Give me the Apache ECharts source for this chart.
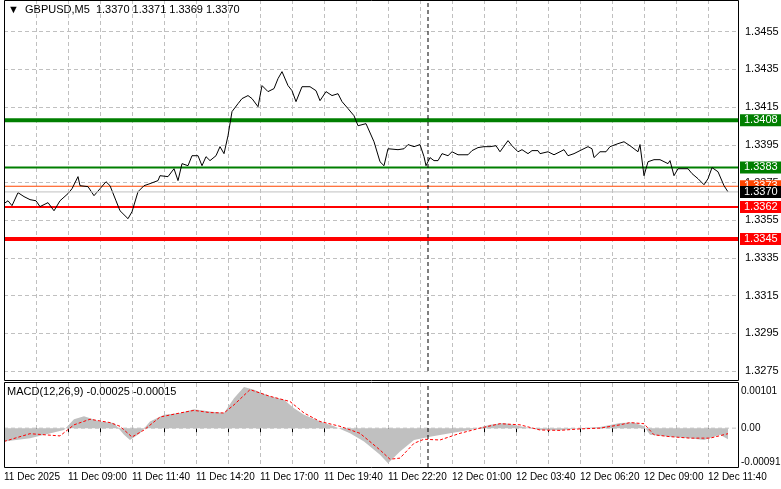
<!DOCTYPE html>
<html>
<head>
<meta charset="utf-8">
<script src="https://cdn.jsdelivr.net/npm/echarts@6/dist/echarts.min.js"></script>
<style>
  html, body { margin: 0; padding: 0; background: #fff; }
  #chart { width: 781px; height: 489px; }
</style>
</head>
<body>
<div id="chart"></div>
<script>
// price trace, [bar index (5 min bars), close]
const priceData = [
  [0,1.33638],[2,1.33653],[4,1.33627],[7,1.33696],[10,1.33675],[13,1.33659],[16,1.33653],[18,1.33622],
  [22,1.33643],[25,1.33600],[28,1.33653],[32,1.33691],[34,1.33717],[37,1.33781],[38,1.33733],[42,1.33728],
  [45,1.33680],[48,1.33717],[51,1.33754],[53,1.33733],[56,1.33653],[58,1.33600],[62,1.33558],[64,1.33595],
  [67,1.33701],[70,1.33733],[73,1.33744],[77,1.33760],[78,1.33786],[82,1.33781],[85,1.33823],[87,1.33760],
  [89,1.33850],[92,1.33839],[94,1.33892],[97,1.33892],[99,1.33839],[101,1.33887],[103,1.33866],[106,1.33892],
  [108,1.33940],[110,1.33903],[112,1.33998],[114,1.34126],[117,1.34168],[119,1.34195],[122,1.34211],[124,1.34195],
  [127,1.34152],[129,1.34264],[132,1.34232],[135,1.34248],[137,1.34301],[139,1.34338],[142,1.34264],[144,1.34237],
  [146,1.34179],[149,1.34258],[153,1.34258],[156,1.34237],[158,1.34184],[161,1.34232],[164,1.34211],[167,1.34221],
  [169,1.34179],[172,1.34142],[175,1.34104],[177,1.34051],[181,1.34062],[185,1.33966],[188,1.33860],[190,1.33839],
  [192,1.33929],[197,1.33924],[200,1.33929],[202,1.33951],[205,1.33940],[208,1.33951],[210,1.33887],[211,1.33839],
  [213,1.33882],[215,1.33866],[217,1.33866],[219,1.33903],[222,1.33892],[224,1.33913],[227,1.33897],[229,1.33897],
  [232,1.33897],[234,1.33919],[237,1.33935],[240,1.33940],[243,1.33940],[246,1.33945],[248,1.33913],[252,1.33972],
  [254,1.33945],[257,1.33913],[259,1.33924],[262,1.33903],[264,1.33919],[267,1.33919],[268,1.33903],[272,1.33913],
  [275,1.33897],[278,1.33913],[280,1.33924],[282,1.33892],[285,1.33903],[288,1.33919],[292,1.33940],[294,1.33929],
  [295,1.33882],[298,1.33913],[301,1.33913],[303,1.33940],[307,1.33956],[310,1.33966],[313,1.33945],[317,1.33913],
  [318,1.33951],[320,1.33786],[322,1.33860],[325,1.33871],[328,1.33871],[332,1.33850],[333,1.33866],[335,1.33786],
  [337,1.33823],[339,1.33823],[342,1.33823],[344,1.33797],[347,1.33770],[350,1.33738],[352,1.33770],[354,1.33829],
  [357,1.33807],[360,1.33733],[362,1.33700]
];

// MACD main (histogram) and signal, [bar index, value]
const macdHist = [
  [0,-0.00036],[13,-0.00027],[30,-0.00005],[35,0.00024],[40,0.00032],[48,0.00018],[55,0.00014],[60,-0.00018],
  [63,-0.00032],[68,-0.00014],[73,0.00018],[80,0.00036],[88,0.00041],[95,0.00051],[103,0.00045],[110,0.00041],
  [115,0.00081],[120,0.00111],[125,0.00104],[133,0.00086],[140,0.00077],[145,0.00054],[150,0.00036],[158,0.00018],
  [165,0.00005],[173,-0.00014],[180,-0.00036],[188,-0.00072],[192,-0.00095],[198,-0.00063],[205,-0.00032],[213,-0.00023],
  [223,-0.00014],[233,-0.00005],[243,0.00009],[250,0.00014],[258,0.00005],[268,-0.00005],[278,-0.00006],[288,0],
  [298,0.00003],[308,0.00014],[315,0.00015],[320,0.00005],[323,-0.00018],[333,-0.00023],[343,-0.00027],[350,-0.00032],
  [358,-0.00018],[362,-0.00030]
];
const macdSignal = [
  [0,-0.00036],[13,-0.00015],[28,-0.00021],[35,0.00009],[43,0.00024],[53,0.00015],[58,0.00005],[64,-0.00024],
  [70,-0.00005],[78,0.00030],[88,0.00041],[95,0.00048],[103,0.00042],[110,0.00041],[115,0.00063],[123,0.00104],
  [133,0.00086],[143,0.00072],[150,0.00041],[158,0.00018],[168,0.00005],[178,-0.00014],[188,-0.00059],[193,-0.00084],
  [198,-0.00081],[205,-0.00041],[210,-0.00030],[218,-0.00032],[228,-0.00014],[238,0],[248,0.00012],[258,0.00009],
  [268,-0.00005],[278,-0.00006],[288,-0.00002],[298,0],[308,0.00009],[313,0.00015],[320,0.00012],[325,-0.00018],
  [333,-0.00023],[343,-0.00027],[353,-0.00027],[362,-0.00015]
];

const timeLabels = ['11 Dec 2025','11 Dec 09:00','11 Dec 11:40','11 Dec 14:20','11 Dec 17:00','11 Dec 19:40',
  '11 Dec 22:20','12 Dec 01:00','12 Dec 03:40','12 Dec 06:20','12 Dec 09:00','12 Dec 11:40'];

// horizontal levels: value, colour, width
const levels = [
  { v: 1.3408, c: '#007f00', w: 4 },
  { v: 1.3383, c: '#007f00', w: 2 },
  { v: 1.3373, c: '#ff4500', w: 1 },
  { v: 1.3370, c: '#c0c0c0', w: 1, bg: '#000000' },
  { v: 1.3362, c: '#ff0000', w: 2 },
  { v: 1.3345, c: '#ff0000', w: 4 }
];
const cursorBar = 212;
const X_MAX = 367;
const P_MIN = 1.3275, P_MAX = 1.34718;
const M_MIN = -0.00105, M_MAX = 0.00122;

const FONT = 'Liberation Sans';
const chart = echarts.init(document.getElementById('chart'));
const dash = { color: '#c0c0c0', type: [4, 3], width: 1 };

const xCommon = {
  type: 'value', min: 0, max: X_MAX, interval: 16,
  splitLine: { show: true, lineStyle: dash },
  axisLine: { show: false }
};

const seg = (xi, yi, data, style, z, extra) => Object.assign({
  type: 'line', xAxisIndex: xi, yAxisIndex: yi, data: data, showSymbol: false, silent: true,
  lineStyle: style, z: z
}, extra || {});

const levelSeries = levels.map(l => seg(0, 0, [[0, l.v], [X_MAX, l.v]],
  { color: l.c, width: l.w, type: 'solid' }, l.bg ? 7 : 4, {
    endLabel: { show: true, distance: 2, formatter: l.v.toFixed(4), color: '#fff',
      backgroundColor: l.bg || l.c, padding: [1, 4, 0, 4], fontFamily: FONT, fontSize: 11 }
  }));

chart.setOption({
  animation: false,
  backgroundColor: '#fff',
  grid: [
    { left: 4, right: 43, top: 0, bottom: 118, outerBoundsMode: 'none' },
    { left: 4, right: 43, top: 383, bottom: 22, outerBoundsMode: 'none' }
  ],
  xAxis: [
    Object.assign({ gridIndex: 0, axisTick: { show: false }, axisLabel: { show: false } }, xCommon),
    Object.assign({
      gridIndex: 1,
      axisTick: { show: true, length: 4, lineStyle: { color: '#000' } },
      axisLabel: {
        fontFamily: FONT, fontSize: 10, color: '#000', align: 'left', margin: 5,
        formatter: v => (v % 32 === 0 ? (timeLabels[v / 32] || '') : '')
      }
    }, xCommon)
  ],
  yAxis: [
    {
      gridIndex: 0, type: 'value', position: 'right', min: P_MIN, max: P_MAX, interval: 0.002,
      splitLine: { show: true, lineStyle: dash },
      axisLine: { show: false }, axisTick: { show: false },
      axisLabel: { fontFamily: FONT, fontSize: 11, color: '#000', margin: 7, showMaxLabel: false,
        formatter: v => v.toFixed(4) }
    },
    {
      gridIndex: 1, type: 'value', position: 'right', min: M_MIN, max: M_MAX,
      splitLine: { show: false }, axisLine: { show: false }, axisTick: { show: false },
      axisLabel: { fontFamily: FONT, fontSize: 10, color: '#000', margin: 3,
        customValues: [0.00101, 0, -0.00091],
        formatter: v => (v === 0 ? '0.00' : v.toFixed(5)) }
    }
  ],
  series: [
    seg(0, 0, priceData, { color: '#000', width: 1 }, 5),
    seg(0, 0, [[cursorBar, P_MIN], [cursorBar, P_MAX]], { color: '#000', type: [4, 3], width: 1 }, 6)
  ].concat(levelSeries).concat([
    seg(1, 1, macdHist, { width: 0 }, 2, { areaStyle: { color: '#c0c0c0', opacity: 1 } }),
    seg(1, 1, [[0, 0], [X_MAX, 0]], { color: '#c0c0c0', type: [4, 3], width: 1 }, 1),
    seg(1, 1, [[cursorBar, M_MIN], [cursorBar, M_MAX]], { color: '#000', type: [4, 3], width: 1 }, 6),
    seg(1, 1, macdSignal, { color: '#ff0000', width: 1, type: [3, 2] }, 4)
  ]),
  graphic: [
    { type: 'rect', shape: { x: 4.5, y: 0.5, width: 734, height: 380 }, style: { fill: null, stroke: '#000', lineWidth: 1 }, z: 10 },
    { type: 'rect', shape: { x: 4.5, y: 382.5, width: 734, height: 85 }, style: { fill: null, stroke: '#000', lineWidth: 1 }, z: 10 },
    { type: 'text', left: 8, top: 4, style: { text: '▼  GBPUSD,M5  1.3370 1.3371 1.3369 1.3370', fontFamily: FONT, fontSize: 11, fill: '#000' }, z: 10 },
    { type: 'text', left: 7, top: 386, style: { text: 'MACD(12,26,9) -0.00025 -0.00015', fontFamily: FONT, fontSize: 11, fill: '#000' }, z: 10 }
  ]
});
</script>
</body>
</html>
